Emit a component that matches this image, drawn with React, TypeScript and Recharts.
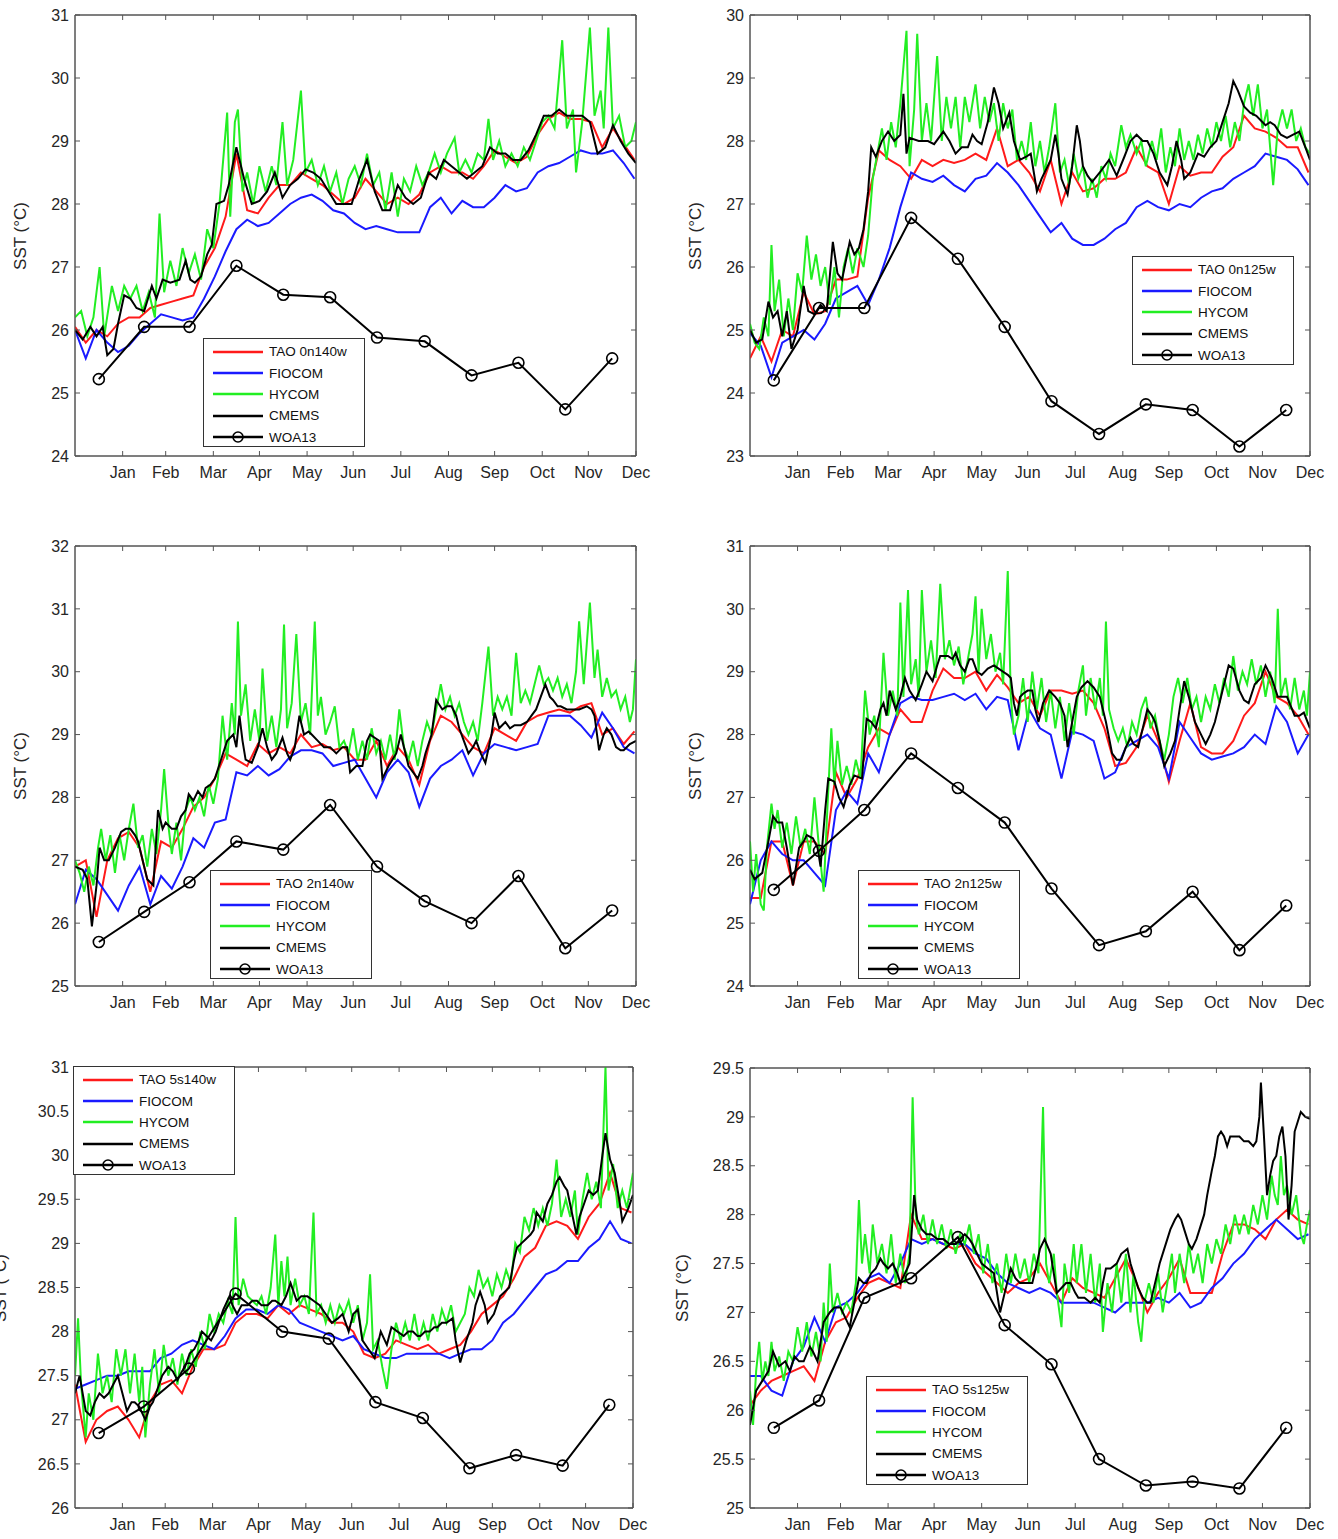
import React from 'react';
import { LineChart, Line, XAxis, YAxis, ReferenceArea } from 'recharts';

type Pair = [number, number];

const MONTHS = ['Jan', 'Feb', 'Mar', 'Apr', 'May', 'Jun', 'Jul', 'Aug', 'Sep', 'Oct', 'Nov', 'Dec'];
const MONTH_END_DAYS = [31, 59, 90, 120, 151, 181, 212, 243, 273, 304, 334, 365];
const MID_MONTH_DAYS = [15.5, 45, 74.5, 105, 135.5, 166, 196.5, 227.5, 258, 288.5, 319, 349.5];
const WEEK_DAYS = Array.from({ length: 53 }, (_, i) => i * 7);

const TICKS_1 = [24, 25, 26, 27, 28, 29, 30, 31];
const TICKS_2 = [23, 24, 25, 26, 27, 28, 29, 30];
const TICKS_3 = [25, 26, 27, 28, 29, 30, 31, 32];
const TICKS_4 = [24, 25, 26, 27, 28, 29, 30, 31];
const TICKS_5 = [26, 26.5, 27, 27.5, 28, 28.5, 29, 29.5, 30, 30.5, 31];
const TICKS_6 = [25, 25.5, 26, 26.5, 27, 27.5, 28, 28.5, 29, 29.5];

// ---------- Panel 1: TAO 0n140w ----------
const P1_TAO = [26.05,25.8,26.0,25.9,26.1,26.2,26.2,26.35,26.4,26.45,26.5,26.55,27.0,27.3,27.8,28.8,27.9,27.85,28.1,28.3,28.3,28.5,28.4,28.3,28.15,28.0,28.1,28.4,28.2,28.0,28.1,28.0,28.15,28.5,28.6,28.5,28.5,28.4,28.6,28.85,28.75,28.65,28.75,29.1,29.35,29.45,29.35,29.35,29.3,28.9,29.2,28.95,28.7];
const P1_FIO = [26.0,25.55,26.0,25.8,25.65,25.75,25.95,26.1,26.25,26.2,26.15,26.2,26.5,26.85,27.25,27.6,27.75,27.65,27.7,27.85,28.0,28.1,28.15,28.05,27.9,27.85,27.7,27.6,27.65,27.6,27.55,27.55,27.55,27.95,28.1,27.85,28.05,27.95,27.95,28.1,28.3,28.2,28.25,28.5,28.6,28.65,28.75,28.85,28.8,28.8,28.85,28.65,28.4];
const P1_HY: Pair[] = [[0,26.2],[4,26.3],[8,25.9],[12,26.2],[16,27.0],[19,25.9],[24,26.7],[28,26.3],[32,26.7],[36,26.5],[40,26.7],[44,26.3],[48,26.6],[52,26.2],[55,27.85],[58,26.6],[62,27.1],[66,26.7],[70,27.3],[74,26.9],[78,27.2],[82,26.8],[86,27.6],[90,27.3],[94,28.0],[99,29.45],[101,27.8],[104,29.3],[106,29.5],[109,28.2],[112,28.5],[116,28.0],[120,28.6],[124,28.2],[128,28.6],[131,28.3],[135,29.3],[138,28.3],[142,28.7],[147,29.8],[150,28.5],[154,28.7],[158,28.3],[162,28.6],[166,28.2],[170,28.5],[174,28.0],[178,28.4],[182,28.6],[186,28.3],[190,28.8],[194,28.3],[198,28.5],[202,27.9],[206,28.5],[210,27.8],[214,28.4],[218,28.2],[222,28.6],[226,28.3],[230,28.5],[234,28.8],[238,28.5],[242,28.8],[247,29.05],[250,28.5],[254,28.7],[258,28.5],[262,28.8],[266,28.7],[269,29.35],[272,28.7],[276,29.0],[280,28.6],[284,28.8],[288,28.6],[292,28.9],[296,28.7],[300,29.0],[304,29.3],[308,29.4],[312,29.2],[317,30.6],[320,29.2],[324,29.5],[326,28.5],[330,29.3],[335,30.8],[338,29.4],[342,29.8],[344,29.2],[347,30.8],[350,29.2],[354,29.4],[358,28.9],[362,29.0],[365,29.3]];
const P1_CM: Pair[] = [[0,26.0],[5,25.85],[10,26.05],[14,25.9],[18,26.05],[21,25.6],[25,25.7],[28,26.1],[32,26.55],[36,26.5],[40,26.35],[45,26.3],[50,26.7],[53,26.5],[57,26.8],[62,26.75],[68,26.8],[72,27.1],[75,26.8],[78,26.75],[82,26.85],[86,27.2],[89,27.35],[92,28.0],[97,28.05],[100,28.3],[105,28.9],[110,28.4],[115,28.0],[120,28.05],[125,28.2],[130,28.5],[135,28.1],[140,28.3],[145,28.4],[150,28.55],[155,28.5],[160,28.4],[165,28.2],[170,28.0],[175,28.0],[180,28.0],[185,28.4],[190,28.7],[195,28.2],[200,27.9],[205,27.9],[210,28.3],[215,28.1],[220,28.0],[225,28.1],[230,28.5],[235,28.4],[240,28.7],[245,28.6],[250,28.5],[255,28.4],[260,28.5],[265,28.6],[270,28.9],[275,28.8],[280,28.8],[285,28.7],[290,28.7],[295,28.85],[300,29.1],[305,29.4],[310,29.4],[315,29.5],[320,29.4],[325,29.4],[330,29.4],[335,29.3],[340,28.8],[345,28.9],[350,29.25],[355,29.0],[360,28.8],[365,28.65]];
const P1_WOA = [25.22,26.05,26.05,27.02,26.56,26.52,25.88,25.82,25.28,25.48,24.74,25.55];

// ---------- Panel 2: TAO 0n125w ----------
const P2_TAO = [24.55,24.9,24.5,25.0,24.9,25.6,25.25,25.3,25.8,25.8,25.85,27.1,27.85,27.7,27.6,27.4,27.7,27.6,27.7,27.65,27.7,27.8,27.7,28.2,27.6,27.7,27.5,27.2,27.7,27.0,27.5,27.2,27.25,27.4,27.4,27.5,27.9,27.6,27.5,27.0,27.6,27.45,27.5,27.5,27.75,27.9,28.4,28.2,28.15,28.05,27.9,27.9,27.5];
const P2_FIO = [24.95,24.75,24.25,24.8,24.9,25.0,24.85,25.1,25.5,25.6,25.7,25.4,25.8,26.3,26.95,27.5,27.4,27.35,27.45,27.3,27.2,27.4,27.45,27.65,27.5,27.3,27.05,26.8,26.55,26.7,26.45,26.35,26.35,26.45,26.6,26.7,26.95,27.05,26.95,26.9,27.0,26.95,27.1,27.2,27.25,27.4,27.5,27.6,27.8,27.75,27.7,27.55,27.3];
const P2_HY: Pair[] = [[0,25.1],[3,24.8],[6,24.7],[9,25.2],[12,24.9],[14,26.35],[16,25.3],[19,25.8],[22,24.9],[25,25.5],[28,25.0],[31,25.9],[34,25.6],[37,26.5],[40,25.8],[43,26.2],[46,25.7],[49,26.0],[52,25.4],[55,26.0],[58,25.2],[61,26.0],[64,26.3],[67,25.9],[70,26.3],[74,26.0],[77,26.5],[80,27.4],[83,27.8],[86,28.2],[89,27.7],[92,28.3],[95,27.9],[98,28.6],[102,29.75],[104,27.6],[107,28.5],[109,29.7],[112,28.0],[115,28.6],[118,28.0],[122,29.35],[125,28.0],[128,28.7],[131,28.2],[134,28.7],[137,27.9],[140,28.7],[143,28.3],[147,28.9],[150,28.2],[153,28.7],[156,28.3],[159,28.6],[162,28.0],[165,28.6],[168,28.2],[171,28.5],[174,27.7],[177,28.0],[180,27.7],[183,28.3],[186,27.6],[189,28.0],[192,27.5],[195,27.9],[199,28.6],[202,27.5],[205,27.7],[208,27.3],[211,27.8],[214,27.4],[217,27.6],[220,27.1],[223,27.4],[226,27.1],[229,27.6],[232,27.4],[235,27.8],[238,27.6],[242,28.25],[245,27.9],[248,28.1],[252,27.8],[255,28.0],[258,27.6],[262,28.0],[265,27.7],[268,28.2],[271,27.5],[274,27.9],[277,27.6],[280,28.2],[283,27.7],[286,28.0],[289,27.7],[292,28.1],[295,27.8],[298,28.2],[301,27.9],[304,28.3],[307,28.0],[310,28.4],[313,27.9],[316,28.3],[319,28.0],[322,28.6],[325,28.9],[328,28.4],[331,28.9],[334,28.2],[337,28.5],[341,27.3],[344,28.2],[347,28.5],[350,28.2],[353,28.5],[356,28.0],[359,28.2],[362,27.9],[365,27.8]];
const P2_CM: Pair[] = [[0,25.0],[4,24.8],[8,24.85],[12,25.45],[15,25.2],[18,25.3],[21,24.9],[24,25.3],[27,24.7],[31,25.0],[35,25.7],[38,25.3],[42,25.25],[46,25.4],[50,25.3],[54,26.4],[57,25.9],[60,25.8],[65,26.4],[68,26.2],[71,26.3],[74,26.6],[77,27.2],[79,27.9],[82,27.75],[86,28.0],[90,28.15],[94,28.0],[98,28.1],[100,28.75],[102,27.8],[104,28.05],[110,28.0],[116,28.0],[120,27.95],[126,28.15],[130,28.0],[134,27.8],[138,27.9],[142,27.9],[145,28.1],[148,28.0],[151,27.95],[155,28.3],[159,28.85],[162,28.6],[165,28.2],[169,28.45],[172,28.0],[176,27.7],[180,27.75],[183,27.8],[185,27.5],[187,27.2],[190,27.4],[192,27.5],[196,27.7],[199,28.1],[201,27.8],[203,27.4],[207,27.15],[210,27.6],[213,28.25],[215,28.0],[217,27.6],[220,27.45],[223,27.35],[228,27.5],[234,27.7],[239,27.45],[244,27.75],[248,28.0],[252,28.1],[256,28.0],[259,28.0],[263,27.8],[267,27.5],[272,27.3],[275,27.6],[278,28.0],[281,27.7],[283,27.4],[287,27.5],[292,27.8],[296,27.75],[300,27.9],[304,28.0],[308,28.3],[312,28.6],[315,28.95],[318,28.8],[322,28.55],[326,28.45],[330,28.4],[336,28.25],[339,28.3],[342,28.25],[346,28.1],[350,28.05],[354,28.1],[358,28.15],[362,27.9],[365,27.7]];
const P2_WOA = [24.2,25.35,25.35,26.78,26.13,25.05,23.87,23.35,23.82,23.73,23.15,23.73];

// ---------- Panel 3: TAO 2n140w ----------
const P3_TAO = [26.9,27.0,26.1,27.0,27.35,27.45,27.2,26.5,27.3,27.2,27.5,27.85,28.0,28.3,28.7,28.6,28.5,28.85,28.7,28.8,28.7,29.0,28.8,28.85,28.75,28.8,28.6,28.6,28.9,28.5,28.8,28.6,28.2,28.9,29.3,29.2,29.0,28.8,28.7,29.1,29.0,28.9,29.2,29.3,29.35,29.4,29.35,29.45,29.5,29.0,29.1,28.85,29.05];
const P3_FIO = [26.3,26.85,26.7,26.45,26.2,26.6,26.9,26.3,26.75,26.55,26.9,27.35,27.2,27.6,27.65,28.4,28.35,28.5,28.35,28.45,28.65,28.75,28.75,28.7,28.5,28.55,28.6,28.3,28.0,28.4,28.6,28.4,27.85,28.3,28.5,28.6,28.75,28.35,28.7,28.85,28.8,28.75,28.8,28.85,29.3,29.3,29.3,29.15,28.95,29.35,29.1,28.8,28.7];
const P3_HY: Pair[] = [[0,27.0],[3,26.8],[6,26.5],[9,26.9],[12,26.6],[15,27.2],[17,27.5],[20,27.0],[23,27.4],[26,26.8],[29,27.4],[32,27.0],[35,27.5],[38,27.9],[41,27.2],[44,27.4],[47,26.9],[50,27.5],[53,27.1],[56,27.8],[58,28.45],[61,27.5],[63,27.1],[66,27.6],[69,27.0],[72,27.8],[75,28.0],[78,27.8],[81,28.0],[84,27.7],[87,28.2],[90,27.9],[93,28.3],[96,29.3],[99,28.6],[102,29.5],[104,29.0],[106,30.8],[108,29.3],[111,29.8],[114,28.9],[117,29.4],[120,28.9],[122,30.05],[125,28.9],[128,29.3],[131,28.8],[134,29.4],[136,30.75],[138,29.1],[141,29.5],[144,30.6],[147,29.2],[150,29.5],[153,29.0],[156,30.8],[158,29.3],[160,29.6],[163,29.0],[166,29.2],[169,29.45],[172,28.8],[175,28.9],[178,28.7],[181,29.1],[184,28.6],[187,28.9],[190,28.6],[193,29.1],[196,28.7],[199,28.9],[202,28.6],[205,29.0],[208,28.6],[211,29.4],[214,28.8],[217,28.6],[220,28.9],[223,28.5],[226,28.9],[229,29.2],[232,29.0],[235,29.4],[238,29.8],[241,29.4],[244,29.6],[247,29.3],[250,29.5],[253,29.2],[256,29.0],[259,29.2],[262,28.9],[265,29.5],[269,30.4],[272,29.3],[275,29.6],[278,29.4],[281,29.6],[284,29.3],[287,30.3],[290,29.5],[293,29.7],[296,29.5],[299,29.8],[302,30.1],[305,29.8],[308,29.9],[311,29.7],[314,29.9],[317,29.6],[320,29.8],[323,29.5],[326,30.0],[328,30.8],[331,29.8],[335,31.1],[338,29.9],[340,30.35],[343,29.6],[346,29.9],[349,29.6],[352,29.7],[355,29.4],[358,29.6],[361,29.2],[363,29.4],[365,30.2]];
const P3_CM: Pair[] = [[0,26.9],[5,26.85],[8,26.7],[11,25.95],[14,26.6],[16,27.2],[19,27.0],[22,27.0],[26,27.2],[30,27.45],[33,27.5],[36,27.5],[39,27.4],[41,27.3],[44,27.0],[47,26.7],[51,26.6],[54,27.8],[57,27.5],[59,27.6],[63,27.5],[66,27.5],[69,27.7],[72,27.8],[74,28.05],[77,27.95],[80,28.1],[83,28.0],[85,28.15],[88,28.2],[91,28.3],[95,28.6],[99,28.9],[103,29.0],[105,28.8],[107,29.3],[109,28.9],[111,28.6],[115,28.55],[119,28.8],[122,29.1],[125,28.8],[128,28.6],[131,28.7],[135,28.95],[138,28.7],[140,28.6],[143,28.8],[146,29.3],[149,29.0],[152,29.05],[154,29.0],[158,28.9],[162,28.8],[166,28.8],[170,28.7],[174,28.8],[177,28.8],[179,28.4],[183,28.5],[187,28.5],[190,28.9],[192,29.0],[195,28.95],[198,28.9],[200,28.3],[204,28.5],[209,28.7],[212,29.0],[215,28.7],[217,28.5],[220,28.4],[223,28.3],[226,28.5],[228,28.7],[232,29.0],[235,29.55],[239,29.4],[242,29.45],[245,29.45],[248,29.3],[250,29.1],[253,28.9],[256,28.7],[259,28.8],[261,28.9],[264,28.7],[267,28.55],[271,29.0],[273,29.35],[276,29.1],[280,29.2],[283,29.1],[286,29.15],[290,29.15],[294,29.2],[297,29.3],[300,29.4],[303,29.6],[306,29.8],[309,29.6],[311,29.55],[314,29.45],[316,29.45],[320,29.4],[324,29.4],[328,29.4],[333,29.45],[336,29.4],[338,29.3],[341,28.75],[344,29.0],[346,29.1],[349,29.0],[352,28.8],[355,28.75],[357,28.75],[361,28.85],[365,28.9]];
const P3_WOA = [25.7,26.18,26.65,27.3,27.17,27.88,26.9,26.35,26.0,26.75,25.6,26.2];

// ---------- Panel 4: TAO 2n125w ----------
const P4_TAO = [25.4,25.4,26.3,26.3,25.6,26.3,26.3,26.1,27.4,27.0,27.3,27.8,28.1,28.0,28.4,28.2,28.2,28.7,29.05,28.9,28.9,29.0,28.7,28.95,28.75,28.5,28.6,28.3,28.7,28.7,28.65,28.7,28.5,28.1,27.5,27.55,27.8,28.3,27.9,27.25,27.9,28.5,27.8,27.7,27.7,27.9,28.3,28.5,29.0,28.6,28.5,28.3,28.0];
const P4_FIO = [25.3,26.0,26.3,26.1,26.0,26.0,25.8,25.6,26.8,27.1,26.9,27.7,27.4,28.0,28.5,28.6,28.55,28.55,28.6,28.65,28.55,28.65,28.4,28.6,28.55,27.75,28.4,28.1,28.0,27.3,28.05,28.0,27.9,27.3,27.4,27.8,27.9,28.0,27.8,27.3,28.2,27.95,27.7,27.6,27.65,27.7,27.8,28.0,27.85,28.45,28.2,27.7,28.0];
const P4_HY: Pair[] = [[0,26.3],[2,25.5],[4,26.1],[7,25.3],[9,25.2],[11,26.2],[14,26.9],[16,26.5],[18,26.8],[21,26.2],[24,26.6],[27,26.1],[30,26.7],[33,26.2],[36,26.5],[39,26.1],[42,27.0],[45,26.2],[48,25.5],[50,26.6],[53,28.1],[55,27.2],[57,27.9],[60,27.2],[63,27.5],[66,27.2],[69,27.6],[72,27.3],[75,28.7],[78,28.0],[81,28.3],[84,27.8],[87,29.3],[90,28.3],[93,28.7],[96,28.3],[98,30.1],[100,28.6],[103,30.3],[105,28.8],[108,29.2],[110,28.6],[112,30.3],[115,29.0],[118,29.5],[121,28.9],[124,30.4],[127,29.2],[130,29.5],[133,29.1],[136,29.4],[139,28.8],[142,29.2],[145,29.6],[147,30.2],[149,29.0],[151,30.0],[154,29.2],[157,29.6],[160,29.0],[163,29.3],[165,28.8],[168,30.6],[170,28.6],[172,28.0],[175,28.3],[178,28.9],[181,28.2],[184,29.0],[187,28.4],[190,28.9],[193,28.2],[196,28.7],[199,28.1],[202,28.6],[205,27.9],[208,28.5],[211,28.0],[214,28.7],[217,29.1],[219,28.3],[222,28.9],[225,28.4],[228,28.9],[230,28.3],[232,29.8],[234,28.4],[237,28.1],[240,27.9],[243,28.1],[246,27.8],[249,28.2],[252,28.0],[255,28.4],[258,28.6],[261,28.1],[264,28.3],[267,27.9],[270,27.6],[273,28.0],[276,28.6],[279,28.9],[282,28.5],[285,28.9],[288,28.4],[291,28.6],[294,28.2],[297,28.6],[300,28.4],[303,28.8],[306,28.5],[309,28.9],[312,28.6],[315,29.25],[318,28.7],[321,29.0],[324,28.8],[327,29.2],[330,28.8],[333,29.1],[336,28.6],[339,29.0],[342,28.5],[344,30.0],[346,28.6],[349,28.9],[352,28.4],[355,28.9],[358,28.4],[361,28.7],[363,28.3],[365,29.0]];
const P4_CM: Pair[] = [[0,25.85],[3,25.7],[8,25.8],[12,26.3],[15,26.7],[18,26.6],[21,26.6],[24,26.2],[28,25.6],[32,26.2],[35,26.3],[37,26.4],[41,26.35],[44,26.2],[46,25.9],[49,26.8],[51,27.3],[55,27.25],[58,27.0],[61,26.85],[65,27.2],[68,27.35],[73,27.3],[76,28.25],[79,28.2],[82,28.1],[85,28.4],[87,28.5],[89,28.3],[91,28.7],[95,28.4],[98,28.6],[101,28.9],[104,28.7],[108,28.55],[112,28.8],[115,29.0],[119,28.85],[122,29.1],[124,29.25],[129,29.25],[132,29.2],[134,29.3],[137,29.1],[140,29.0],[143,29.2],[145,29.2],[148,29.0],[151,28.95],[155,29.05],[159,29.1],[162,29.05],[165,29.0],[168,28.95],[170,28.9],[172,28.5],[174,28.3],[176,28.6],[178,28.65],[181,28.7],[184,28.7],[186,28.4],[188,28.2],[191,28.5],[195,28.7],[199,28.6],[202,28.5],[205,28.3],[207,27.8],[210,28.2],[213,28.6],[216,28.75],[220,28.85],[224,28.75],[228,28.6],[232,28.2],[236,27.7],[239,27.6],[242,27.6],[245,27.8],[248,27.95],[250,27.85],[253,27.8],[256,28.1],[259,28.4],[262,28.3],[264,28.2],[267,27.9],[270,27.5],[274,27.7],[277,27.9],[280,28.4],[283,28.85],[286,28.6],[290,28.2],[294,28.0],[297,27.85],[300,28.0],[303,28.2],[306,28.5],[308,28.7],[312,29.1],[315,29.05],[319,28.7],[322,28.55],[325,28.5],[329,28.8],[333,28.9],[336,29.1],[340,28.9],[344,28.6],[347,28.6],[350,28.6],[355,28.3],[358,28.3],[361,28.35],[365,28.1]];
const P4_WOA = [25.53,26.15,26.8,27.7,27.15,26.6,25.55,24.65,24.87,25.5,24.57,25.28];

// ---------- Panel 5: TAO 5s140w ----------
const P5_TAO = [27.4,26.75,27.0,27.1,27.15,27.0,26.8,27.2,27.4,27.45,27.3,27.6,27.8,27.8,27.85,28.1,28.2,28.2,28.15,28.3,28.2,28.3,28.25,28.2,28.1,28.1,28.0,27.75,27.7,27.75,27.9,27.85,27.8,27.85,27.75,27.8,27.85,28.0,28.2,28.3,28.4,28.6,28.85,28.95,29.2,29.25,29.2,29.05,29.3,29.45,29.8,29.4,29.35];
const P5_FIO = [27.35,27.4,27.45,27.5,27.5,27.55,27.55,27.55,27.7,27.75,27.85,27.9,27.85,27.8,27.95,28.15,28.25,28.25,28.2,28.3,28.25,28.1,28.05,28.0,27.95,27.9,27.95,27.8,27.75,27.7,27.7,27.75,27.75,27.75,27.75,27.7,27.75,27.8,27.8,27.9,28.1,28.2,28.35,28.5,28.65,28.7,28.8,28.8,28.95,29.05,29.25,29.05,29.0];
const P5_HY: Pair[] = [[0,27.5],[2,28.15],[4,27.4],[7,26.8],[9,27.3],[12,27.0],[15,27.75],[18,27.3],[21,27.5],[24,27.2],[27,27.8],[30,27.5],[33,27.8],[36,27.3],[39,27.75],[42,27.2],[44,27.6],[46,26.8],[49,27.4],[52,27.8],[55,27.3],[58,27.85],[61,27.5],[64,27.7],[67,27.4],[70,27.75],[73,27.5],[76,27.8],[79,27.6],[82,28.0],[85,27.8],[88,28.2],[91,28.0],[94,28.2],[97,28.1],[100,28.35],[103,28.2],[105,29.3],[107,28.3],[110,28.6],[113,28.4],[116,28.35],[119,28.3],[122,28.4],[125,28.2],[128,28.5],[131,29.1],[133,28.3],[135,28.8],[137,28.4],[139,28.85],[141,28.3],[144,28.6],[147,28.3],[150,28.4],[153,28.2],[156,29.35],[158,28.2],[161,28.3],[164,28.1],[167,28.3],[170,28.1],[173,28.3],[176,28.2],[179,28.35],[182,28.1],[185,28.3],[188,27.9],[191,28.1],[193,28.65],[195,27.8],[198,27.9],[201,27.6],[204,27.35],[207,27.8],[210,28.1],[213,27.9],[216,28.1],[219,27.9],[222,28.2],[225,27.9],[228,28.1],[231,27.9],[234,28.2],[237,28.0],[240,28.25],[243,28.1],[246,28.3],[249,28.0],[252,28.1],[255,28.2],[258,28.5],[261,28.4],[264,28.7],[267,28.5],[270,28.6],[273,28.4],[276,28.65],[279,28.5],[282,28.7],[285,28.55],[288,29.0],[291,28.9],[294,29.3],[297,29.15],[300,29.4],[303,29.2],[306,29.4],[309,29.2],[312,29.45],[315,29.95],[318,29.3],[321,29.5],[324,29.3],[327,29.6],[329,29.1],[332,29.5],[335,29.8],[338,29.5],[341,29.7],[344,29.4],[347,31.0],[349,29.6],[352,29.9],[355,29.4],[358,29.6],[361,29.4],[363,29.6],[365,29.8]];
const P5_CM: Pair[] = [[0,27.3],[3,27.5],[7,27.1],[10,27.05],[13,27.2],[16,27.3],[19,27.25],[22,27.3],[25,27.4],[28,27.5],[31,27.3],[34,27.1],[37,27.2],[39,27.2],[42,27.15],[46,27.0],[49,27.15],[51,27.2],[54,27.35],[57,27.5],[61,27.6],[64,27.55],[67,27.45],[70,27.55],[72,27.6],[75,27.75],[78,27.8],[81,27.9],[83,28.0],[86,27.95],[89,27.9],[92,28.0],[94,28.1],[97,28.25],[101,28.4],[103,28.3],[106,28.2],[109,28.3],[113,28.3],[116,28.35],[119,28.35],[122,28.3],[126,28.3],[129,28.35],[131,28.35],[135,28.3],[138,28.4],[141,28.55],[143,28.45],[145,28.35],[148,28.4],[152,28.4],[156,28.35],[160,28.3],[164,28.2],[168,28.1],[172,28.15],[175,28.2],[179,28.0],[182,28.2],[185,28.25],[188,27.9],[192,27.8],[196,27.7],[200,28.0],[204,27.85],[207,28.05],[211,28.0],[215,27.95],[218,28.0],[221,28.0],[224,27.95],[226,27.95],[229,28.0],[232,28.0],[235,28.05],[237,28.05],[240,28.1],[243,28.1],[247,28.15],[249,27.9],[252,27.65],[256,27.9],[260,28.1],[262,28.3],[265,28.45],[268,28.3],[270,28.1],[274,28.2],[278,28.4],[281,28.45],[284,28.5],[287,28.8],[289,28.95],[292,29.0],[295,29.05],[298,29.1],[300,29.15],[302,29.35],[304,29.3],[306,29.25],[309,29.45],[312,29.55],[315,29.7],[317,29.75],[320,29.65],[322,29.6],[325,29.35],[328,29.1],[330,29.3],[333,29.45],[336,29.6],[339,29.55],[342,29.6],[345,30.0],[347,30.25],[350,29.95],[353,29.8],[356,29.5],[358,29.25],[362,29.4],[365,29.55]];
const P5_WOA = [26.85,27.15,27.58,28.43,28.0,27.92,27.2,27.02,26.45,26.6,26.48,27.17];

// ---------- Panel 6: TAO 5s125w ----------
const P6_TAO = [26.05,26.2,26.3,26.35,26.4,26.45,26.3,26.7,26.9,26.95,27.15,27.3,27.35,27.3,27.25,28.0,27.75,27.75,27.7,27.65,27.7,27.5,27.4,27.3,27.2,27.3,27.35,27.5,27.3,27.1,27.35,27.25,27.2,27.15,27.35,27.55,27.3,27.0,27.2,27.35,27.55,27.2,27.2,27.2,27.6,27.9,27.9,27.85,27.75,27.95,28.05,27.95,27.9];
const P6_FIO = [26.35,26.35,26.2,26.15,26.5,26.65,26.95,26.7,27.05,27.1,27.2,27.35,27.4,27.3,27.5,27.75,27.7,27.75,27.7,27.7,27.7,27.6,27.55,27.4,27.3,27.25,27.2,27.25,27.2,27.1,27.1,27.1,27.1,27.05,27.0,27.1,27.1,27.1,27.15,27.1,27.2,27.05,27.1,27.25,27.35,27.5,27.6,27.75,27.85,27.95,27.85,27.75,27.8];
const P6_HY: Pair[] = [[0,26.2],[2,25.85],[4,26.4],[6,26.7],[8,26.3],[10,26.5],[12,26.35],[14,26.7],[16,26.4],[19,26.55],[22,26.3],[25,26.6],[28,26.5],[31,26.85],[34,26.6],[37,26.9],[40,26.55],[43,26.8],[46,26.5],[48,27.1],[50,26.7],[52,27.5],[54,27.0],[57,27.2],[60,27.0],[63,27.1],[66,27.0],[69,27.3],[71,28.15],[73,27.5],[75,27.8],[78,27.4],[80,27.9],[83,27.5],[86,27.7],[89,27.4],[92,27.8],[95,27.3],[98,27.6],[101,27.3],[104,27.6],[106,29.2],[108,28.0],[110,27.8],[113,28.0],[116,27.7],[119,27.95],[122,27.7],[125,27.9],[128,27.65],[131,27.85],[134,27.6],[137,27.8],[140,27.7],[143,27.9],[146,27.6],[149,27.8],[152,27.4],[155,27.7],[158,27.3],[161,27.5],[164,27.2],[167,27.6],[170,27.3],[173,27.6],[176,27.35],[179,27.55],[182,27.3],[185,27.6],[188,27.4],[191,29.1],[193,27.5],[195,27.3],[198,27.6],[200,27.2],[203,26.85],[205,27.5],[208,27.2],[211,27.7],[213,27.3],[216,27.7],[219,27.2],[222,27.6],[225,27.1],[228,27.5],[230,26.8],[233,27.3],[236,27.0],[239,27.5],[242,27.1],[245,27.6],[248,27.0],[250,27.4],[253,26.9],[255,26.7],[257,27.1],[260,27.3],[263,27.1],[266,27.4],[269,27.0],[272,27.3],[275,27.6],[277,27.2],[280,27.6],[283,27.3],[286,27.7],[289,27.4],[292,27.6],[295,27.3],[298,27.7],[301,27.5],[304,27.75],[307,27.6],[310,27.9],[313,27.7],[316,28.0],[319,27.8],[322,28.0],[325,27.8],[328,28.1],[331,27.9],[334,28.2],[337,27.95],[340,28.4],[342,28.2],[344,28.1],[346,28.6],[348,28.2],[350,28.3],[353,28.0],[356,28.2],[359,27.8],[361,27.7],[363,27.9],[365,28.05]];
const P6_CM: Pair[] = [[0,25.85],[4,26.2],[8,26.3],[12,26.4],[15,26.6],[19,26.45],[23,26.5],[26,26.4],[29,26.55],[32,26.5],[35,26.5],[39,26.65],[41,26.6],[44,26.5],[48,26.9],[52,27.0],[55,27.05],[59,27.05],[62,26.95],[65,26.85],[68,27.1],[71,27.35],[74,27.3],[76,27.3],[79,27.4],[82,27.45],[85,27.55],[87,27.5],[90,27.45],[93,27.5],[96,27.4],[98,27.3],[101,27.4],[104,27.5],[107,28.2],[109,27.95],[112,27.85],[115,27.8],[118,27.8],[122,27.75],[126,27.75],[130,27.7],[134,27.7],[137,27.75],[140,27.8],[143,27.75],[145,27.7],[148,27.6],[151,27.5],[155,27.45],[159,27.4],[161,27.2],[163,27.0],[166,27.2],[170,27.45],[173,27.35],[176,27.3],[180,27.3],[184,27.3],[187,27.5],[189,27.65],[192,27.75],[196,27.6],[198,27.4],[200,27.2],[203,27.25],[206,27.3],[209,27.3],[212,27.2],[214,27.15],[218,27.15],[222,27.1],[225,27.15],[228,27.1],[230,27.3],[232,27.45],[235,27.45],[239,27.5],[242,27.6],[246,27.65],[248,27.5],[250,27.4],[253,27.25],[256,27.15],[259,27.1],[261,27.1],[264,27.3],[267,27.5],[270,27.65],[274,27.85],[277,27.95],[279,28.0],[281,27.95],[283,27.85],[286,27.7],[288,27.65],[291,27.75],[293,27.85],[296,28.0],[298,28.2],[301,28.45],[303,28.6],[305,28.8],[307,28.85],[309,28.8],[311,28.7],[313,28.8],[316,28.8],[319,28.8],[322,28.75],[325,28.75],[328,28.7],[330,28.75],[332,29.0],[333,29.35],[335,28.8],[337,28.2],[339,28.4],[341,28.55],[343,28.6],[345,28.8],[347,28.9],[349,28.6],[351,27.95],[353,28.3],[355,28.85],[357,28.95],[359,29.05],[362,29.0],[365,28.98]];
const P6_WOA = [25.82,26.1,27.15,27.35,27.77,26.87,26.47,25.5,25.23,25.27,25.2,25.82];

// ---------- helpers ----------
const fromPairs = (p: Pair[]) => p.map(([d, v]) => ({ d, v }));
const fromWeekly = (vals: number[]) => vals.map((v, i) => ({ d: WEEK_DAYS[i], v }));
const fromMonthly = (vals: number[]) => vals.map((v, i) => ({ d: MID_MONTH_DAYS[i], v }));
const monthLabel = (v: number) => MONTHS[MONTH_END_DAYS.indexOf(v)] ?? '';
const blankLabel = () => '';

const FONT = '"Liberation Sans", Arial, Helvetica, sans-serif';
const AX = '#555555';
const TXT = '#262626';
const RED = '#ff1a1a';
const BLUE = '#1a1aff';
const GREEN = '#22ee22';
const BLACK = '#000000';

type PanelCfg = {
  name: string;
  yMin: number; yMax: number; yTicks: number[];
  tao: number[]; fio: number[]; hy: Pair[]; cm: Pair[]; woa: number[];
  box: { left: number; top: number; w: number; h: number };
  legend: { left: number; top: number };
  labelX: number;
};

const PANELS: PanelCfg[] = [
  { name: 'TAO 0n140w', yMin: 24, yMax: 31, yTicks: TICKS_1, tao: P1_TAO, fio: P1_FIO, hy: P1_HY, cm: P1_CM, woa: P1_WOA,
    box: { left: 75, top: 15, w: 561, h: 441 }, legend: { left: 203, top: 338 }, labelX: 21 },
  { name: 'TAO 0n125w', yMin: 23, yMax: 30, yTicks: TICKS_2, tao: P2_TAO, fio: P2_FIO, hy: P2_HY, cm: P2_CM, woa: P2_WOA,
    box: { left: 750, top: 15, w: 560, h: 441 }, legend: { left: 1132, top: 256 }, labelX: 696 },
  { name: 'TAO 2n140w', yMin: 25, yMax: 32, yTicks: TICKS_3, tao: P3_TAO, fio: P3_FIO, hy: P3_HY, cm: P3_CM, woa: P3_WOA,
    box: { left: 75, top: 546, w: 561, h: 440 }, legend: { left: 210, top: 870 }, labelX: 21 },
  { name: 'TAO 2n125w', yMin: 24, yMax: 31, yTicks: TICKS_4, tao: P4_TAO, fio: P4_FIO, hy: P4_HY, cm: P4_CM, woa: P4_WOA,
    box: { left: 750, top: 546, w: 560, h: 440 }, legend: { left: 858, top: 870 }, labelX: 696 },
  { name: 'TAO 5s140w', yMin: 26, yMax: 31, yTicks: TICKS_5, tao: P5_TAO, fio: P5_FIO, hy: P5_HY, cm: P5_CM, woa: P5_WOA,
    box: { left: 75, top: 1067, w: 558, h: 441 }, legend: { left: 73, top: 1066 }, labelX: 1 },
  { name: 'TAO 5s125w', yMin: 25, yMax: 29.5, yTicks: TICKS_6, tao: P6_TAO, fio: P6_FIO, hy: P6_HY, cm: P6_CM, woa: P6_WOA,
    box: { left: 750, top: 1068, w: 560, h: 440 }, legend: { left: 866, top: 1376 }, labelX: 683 },
];

const LegendBox = ({ cfg }: { cfg: PanelCfg }) => {
  const items = [
    { label: cfg.name, color: RED, marker: false },
    { label: 'FIOCOM', color: BLUE, marker: false },
    { label: 'HYCOM', color: GREEN, marker: false },
    { label: 'CMEMS', color: BLACK, marker: false },
    { label: 'WOA13', color: BLACK, marker: true },
  ];
  return (
    <div style={{
      position: 'absolute', left: cfg.legend.left, top: cfg.legend.top, width: 162, height: 109,
      background: '#fff', border: '1px solid #333', boxSizing: 'border-box', padding: '2px 0 0 8px',
    }}>
      {items.map((it) => (
        <div key={it.label} style={{ display: 'flex', alignItems: 'center', height: 21.4 }}>
          <svg width={52} height={14} style={{ flex: 'none' }}>
            <line x1={1} y1={7} x2={51} y2={7} stroke={it.color} strokeWidth={2.5} />
            {it.marker && <circle cx={26} cy={7} r={5} fill="none" stroke={BLACK} strokeWidth={1.6} />}
          </svg>
          <span style={{ marginLeft: 5, fontSize: 13.5, color: '#111', whiteSpace: 'nowrap' }}>{it.label}</span>
        </div>
      ))}
    </div>
  );
};

const Panel = ({ cfg }: { cfg: PanelCfg }) => {
  const { left, top, w, h } = cfg.box;
  const cw = w + 90;
  const ch = h + 50;
  const tickStyle = { fill: TXT, fontSize: 16 };
  return (
    <>
      <div style={{ position: 'absolute', left: left - 60, top: top - 10 }}>
        <LineChart width={cw} height={ch} margin={{ top: 9, right: 29, bottom: 0, left: 0 }}>
          <XAxis dataKey="d" type="number" domain={[0, 365]} ticks={MONTH_END_DAYS} interval={0}
            tickFormatter={monthLabel} height={40} tickSize={-5} tickMargin={16} allowDataOverflow
            stroke={AX} tick={tickStyle} />
          <XAxis xAxisId="top" orientation="top" dataKey="d" type="number" domain={[0, 365]} ticks={MONTH_END_DAYS}
            interval={0} height={1} tickSize={-5} tickFormatter={blankLabel} allowDataOverflow stroke={AX} tick={tickStyle} />
          <YAxis type="number" domain={[cfg.yMin, cfg.yMax]} ticks={cfg.yTicks} interval={0} width={60}
            tickSize={-5} tickMargin={11} allowDataOverflow stroke={AX} tick={tickStyle} />
          <YAxis yAxisId="right" orientation="right" type="number" domain={[cfg.yMin, cfg.yMax]} ticks={cfg.yTicks}
            interval={0} width={1} tickSize={-5} tickFormatter={blankLabel} allowDataOverflow stroke={AX} tick={tickStyle} />
          <ReferenceArea x1={0} x2={365} y1={cfg.yMin} y2={cfg.yMax} fill="none" stroke={AX} strokeWidth={1} ifOverflow="visible" />
          <Line data={fromWeekly(cfg.tao)} dataKey="v" stroke={RED} strokeWidth={2} dot={false} activeDot={false} isAnimationActive={false} />
          <Line data={fromWeekly(cfg.fio)} dataKey="v" stroke={BLUE} strokeWidth={2} dot={false} activeDot={false} isAnimationActive={false} />
          <Line data={fromPairs(cfg.hy)} dataKey="v" stroke={GREEN} strokeWidth={2} dot={false} activeDot={false} isAnimationActive={false} />
          <Line data={fromPairs(cfg.cm)} dataKey="v" xAxisId="top" yAxisId="right" stroke={BLACK} strokeWidth={2} dot={false} activeDot={false} isAnimationActive={false} />
          <Line data={fromMonthly(cfg.woa)} dataKey="v" stroke={BLACK} strokeWidth={2}
            dot={{ r: 5.5, stroke: BLACK, strokeWidth: 1.6, fill: 'none' }} activeDot={false} isAnimationActive={false} />
        </LineChart>
      </div>
      <div style={{
        position: 'absolute', left: cfg.labelX, top: top + h / 2,
        transform: 'translate(-50%, -50%) rotate(-90deg)', fontSize: 17, color: TXT, whiteSpace: 'nowrap',
      }}>SST (°C)</div>
      <LegendBox cfg={cfg} />
    </>
  );
};

export default function App() {
  return (
    <div style={{ position: 'absolute', left: 0, top: 0, width: 1338, height: 1539, background: '#fff', fontFamily: FONT, overflow: 'hidden' }}>
      {PANELS.map((p) => <Panel key={p.name} cfg={p} />)}
    </div>
  );
}
